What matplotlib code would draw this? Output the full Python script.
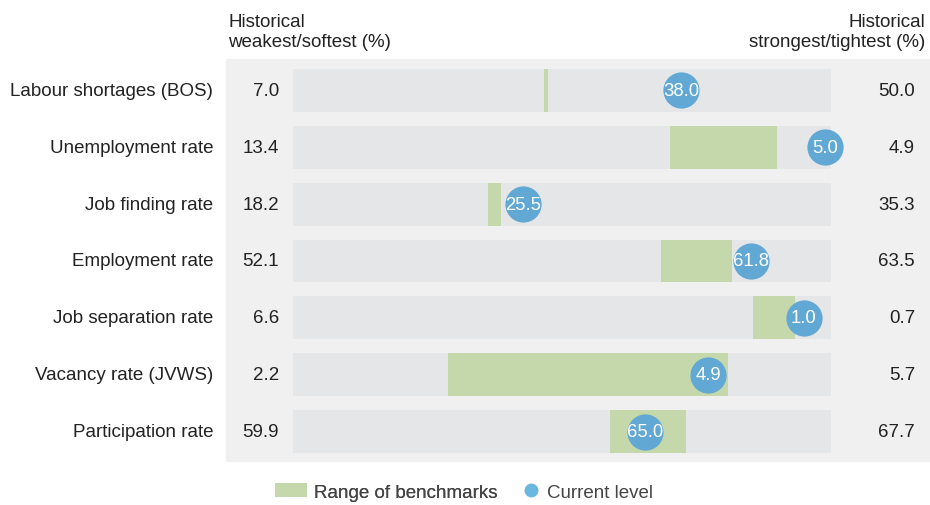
import matplotlib.pyplot as plt
from matplotlib.patches import Rectangle, Patch
from matplotlib.lines import Line2D
import numpy as np

plt.rcParams['font.family'] = ['Liberation Sans', 'DejaVu Sans']

labels = ["Labour shortages (BOS)", "Unemployment rate", "Job finding rate",
          "Employment rate", "Job separation rate", "Vacancy rate (JVWS)",
          "Participation rate"]
weakest = [7.0, 13.4, 18.2, 52.1, 6.6, 2.2, 59.9]
strongest = [50.0, 4.9, 35.3, 63.5, 0.7, 5.7, 67.7]
bench_low = [27.1, 7.45, 24.4, 59.9, 1.56, 3.21, 64.5]
bench_high = [27.4, 5.75, 24.8, 61.4, 1.10, 5.03, 65.6]
current = [38.0, 5.0, 25.5, 61.8, 1.0, 4.9, 65.0]

GREEN = "#c4d8ab"
BLUE = "#62a8d4"
BAR = "#e5e6e8"
PANEL = "#f0f0f0"
TXT = "#222222"
FS = 13.5

W, H = 930, 506
fig = plt.figure(figsize=(W / 100, H / 100), dpi=100)

# background panel
fig.patches.append(Rectangle((226 / W, 1 - 462 / H), 704 / W, 402 / H,
                             transform=fig.transFigure, color=PANEL, zorder=-5))

ax = fig.add_axes([293 / W, 1 - 461 / H, 538 / W, 398 / H])
ax.set_xlim(0, 1)
ax.set_ylim(len(labels) - 0.5, -0.5)
ax.axis("off")


def norm(v, lo, hi):
    return (v - lo) / (hi - lo)


bh = 0.755
for i, lab in enumerate(labels):
    lo, hi = weakest[i], strongest[i]
    ax.barh(i, 1, left=0, height=bh, color=BAR, zorder=1)
    a, b = norm(bench_low[i], lo, hi), norm(bench_high[i], lo, hi)
    ax.barh(i, b - a, left=a, height=bh, color=GREEN, zorder=2)
    c = norm(current[i], lo, hi)
    ax.scatter(c, i, s=680, color=BLUE, zorder=3, linewidths=0, clip_on=False)
    ax.text(c, i, f"{current[i]:.1f}", color="white", fontsize=13.3,
            ha="center", va="center", zorder=4)
    ax.text(-80 / 538, i, lab, ha="right", va="center", fontsize=FS,
            color=TXT, clip_on=False)
    ax.text(-14 / 538, i, f"{lo:.1f}", ha="right", va="center", fontsize=FS,
            color=TXT, clip_on=False)
    ax.text(1 + 84 / 538, i, f"{hi:.1f}", ha="right", va="center",
            fontsize=FS, color=TXT, clip_on=False)

fig.text(228 / W, 1 - 32.5 / H, "Historical\nweakest/softest (%)", ha="left",
         va="center", fontsize=FS, color=TXT, linespacing=1.25)
fig.text(925 / W, 1 - 32.5 / H, "Historical\nstrongest/tightest (%)",
         ha="right", va="center", fontsize=FS, color=TXT, linespacing=1.25,
         multialignment="right")

# legend: two parts so each handle can have its own width
leg_y = 1 - 493 / H
leg1 = fig.legend(handles=[Patch(facecolor=GREEN, edgecolor="none",
                                 label="Range of benchmarks")],
                  loc="center left", bbox_to_anchor=(275 / W, leg_y),
                  frameon=False, fontsize=FS, labelcolor="#444444",
                  borderpad=0, borderaxespad=0, handlelength=1.7,
                  handleheight=0.7, handletextpad=0.4)
leg2 = fig.legend(handles=[Line2D([], [], marker="o", linestyle="none",
                                  markersize=10, markerfacecolor="#6ab8e0",
                                  markeredgecolor="none", label="Current level")],
                  loc="center left", bbox_to_anchor=(524 / W, leg_y),
                  frameon=False, fontsize=FS, labelcolor="#444444",
                  borderpad=0, borderaxespad=0, handlelength=0.7,
                  handletextpad=0.5)
fig.add_artist(leg1)

fig.savefig("out.png", dpi=100)
